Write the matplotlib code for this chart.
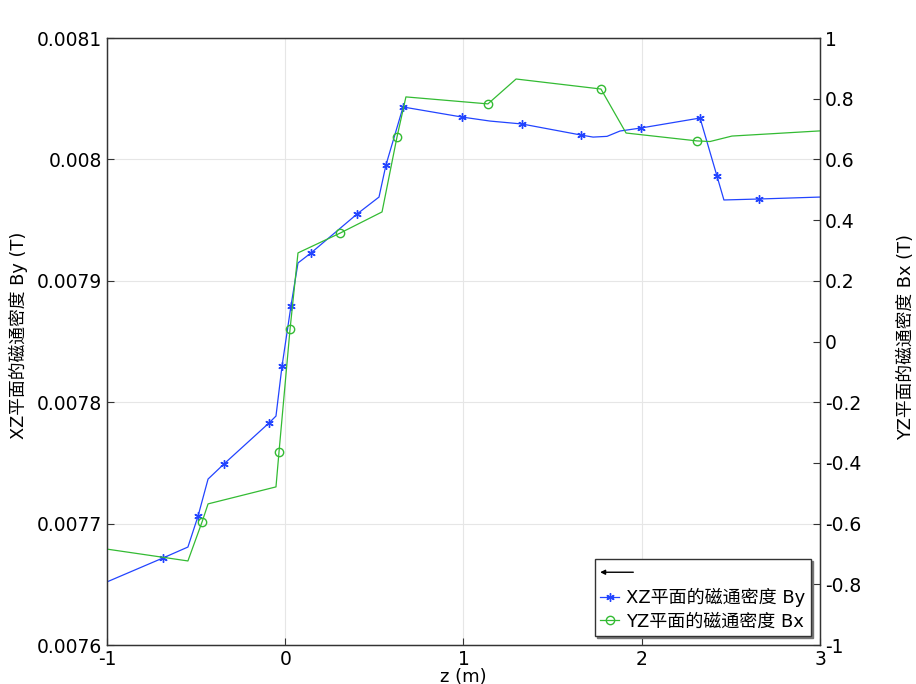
import numpy as np
import matplotlib
matplotlib.use('Agg')
import matplotlib.pyplot as plt
from matplotlib.lines import Line2D

plt.rcParams['font.family'] = ['DejaVu Sans', 'Noto Sans CJK SC']
plt.rcParams['axes.unicode_minus'] = False

# XZ plane flux density By (left axis), line vertices incl. marker points
z_by = [-1.0, -0.686, -0.546, -0.489, -0.433, -0.344, -0.091, -0.052, -0.018, 0.032, 0.0715,
        0.144, 0.4025, 0.526, 0.565, 0.661, 0.992, 1.149, 1.328, 1.659, 1.727, 1.805, 1.878,
        1.996, 2.327, 2.422, 2.461, 2.658, 3.0]
by = [0.007652, 0.0076717, 0.0076807, 0.0077063, 0.0077367, 0.0077491, 0.0077829, 0.0077886,
      0.0078298, 0.0078792, 0.0079147, 0.0079229, 0.0079550, 0.0079690, 0.0079954, 0.0080432,
      0.0080349, 0.0080316, 0.0080292, 0.0080201, 0.0080184, 0.0080190, 0.0080234, 0.0080259,
      0.0080341, 0.0079863, 0.0079666, 0.0079674, 0.0079690]
by_marks = [1, 3, 5, 6, 8, 9, 11, 12, 14, 15, 16, 18, 19, 23, 24, 25, 27]

# YZ plane flux density Bx (right axis)
z_bx = [-1.0, -0.546, -0.467, -0.433, -0.052, -0.035, 0.027, 0.0715, 0.307, 0.543, 0.627,
        0.677, 1.137, 1.295, 1.771, 1.912, 2.310, 2.383, 2.506, 3.0]
bx = [-0.684, -0.723, -0.595, -0.535, -0.479, -0.364, 0.041, 0.292, 0.357, 0.427, 0.674,
      0.806, 0.783, 0.865, 0.832, 0.687, 0.661, 0.659, 0.677, 0.694]
bx_marks = [2, 5, 6, 8, 10, 12, 14, 16]

left_ticks = [0.0076, 0.0077, 0.0078, 0.0079, 0.008, 0.0081]
right_ticks = [-1, -0.8, -0.6, -0.4, -0.2, 0, 0.2, 0.4, 0.6, 0.8, 1]
x_ticks = [-1, 0, 1, 2, 3]

blue = '#2244ff'
green = '#33bb33'
fs = 13.5


class ArrowHandler:
    def legend_artist(self, legend, orig_handle, fontsize, handlebox):
        x0, y0 = handlebox.xdescent, handlebox.ydescent
        w, h = handlebox.width, handlebox.height
        ar = matplotlib.patches.FancyArrowPatch((x0 + w * 1.75, y0 + h / 2), (x0, y0 + h / 2),
                                                arrowstyle='-|>', mutation_scale=7, lw=1, color='k',
                                                shrinkA=0, shrinkB=0,
                                                transform=handlebox.get_transform())
        handlebox.add_artist(ar)
        return ar


fig = plt.figure(figsize=(9.16, 6.84), dpi=100)
ax = fig.add_axes([0.1168, 0.057, 0.7784, 0.8874])
ax2 = ax.twinx()

l1, = ax.plot(z_by, by, color=blue, lw=0.9, marker=(6, 2, 0), markevery=by_marks,
              markersize=6, markeredgewidth=1.0, markeredgecolor=blue)
l2, = ax2.plot(z_bx, bx, color=green, lw=0.9, marker='o', markevery=bx_marks,
               markersize=6, markerfacecolor='none', markeredgecolor=green, markeredgewidth=1.0)

ax.set_xlim(-1, 3)
ax.set_ylim(0.0076, 0.0081)
ax2.set_ylim(-1, 1)
ax.set_xticks(x_ticks)
ax.set_xticklabels(['%g' % t for t in x_ticks], fontsize=fs)
ax.set_yticks(left_ticks)
ax.set_yticklabels(['%g' % t for t in left_ticks], fontsize=fs)
ax2.set_yticks(right_ticks)
ax2.set_yticklabels(['%g' % t for t in right_ticks], fontsize=fs)

ax.grid(True, color='#e6e6e6', lw=0.8)
ax.set_axisbelow(True)
for a in (ax, ax2):
    a.tick_params(direction='in', length=5, width=0.8, colors='#333333', labelcolor='black')
    for s in a.spines.values():
        s.set_color('#333333')
        s.set_linewidth(0.9)

ax.set_xlabel('z (m)', fontsize=13, labelpad=-0.5)
ax.set_ylabel('XZ平面的磁通密度 By (T)', fontsize=12.8)
ax.yaxis.set_label_coords(-0.111, 0.511)
ax2.set_ylabel('YZ平面的磁通密度 Bx (T)', fontsize=12.8, rotation=90)
ax2.yaxis.set_label_coords(1.108, 0.507)

arrow_handle = Line2D([], [], color='k')
ax2.legend([arrow_handle, l1, l2], ['', 'XZ平面的磁通密度 By', 'YZ平面的磁通密度 Bx'],
           handler_map={arrow_handle: ArrowHandler()}, loc='lower right',
           fontsize=13, fancybox=False, edgecolor='#333333', framealpha=1,
           shadow={'ox': 1.5, 'oy': -1.5, 'color': '#777777', 'alpha': 1},
           handlelength=1.05, handletextpad=0.4, borderpad=0.3,
           borderaxespad=0.5, labelspacing=0.3)

fig.savefig('out.png', dpi=100)
